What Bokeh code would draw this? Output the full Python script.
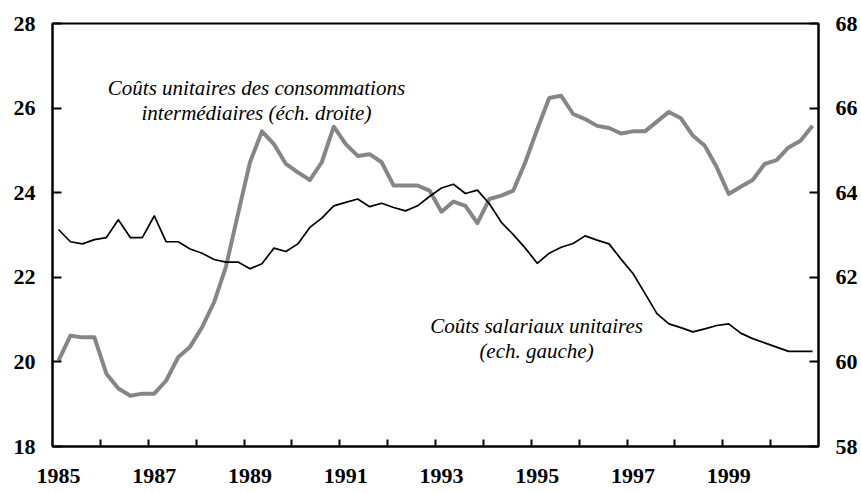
from bokeh.plotting import figure
from bokeh.models import Range1d, LinearAxis, FixedTicker, CustomJSTickFormatter
from bokeh.core.properties import value
from bokeh.embed import file_html
from bokeh.resources import INLINE

# Quarterly data, 1985Q1 .. 2000Q4
start_year = 1985
n_quarters = 64
dates = [start_year + q / 4 + 0.125 for q in range(n_quarters)]

# Coûts salariaux unitaires (échelle gauche)
salariaux = [
    23.13, 22.84, 22.79, 22.89, 22.94, 23.36, 22.94, 22.94,
    23.45, 22.84, 22.84, 22.67, 22.57, 22.42, 22.36, 22.36,
    22.20, 22.32, 22.69, 22.61, 22.79, 23.18, 23.40, 23.69,
    23.77, 23.85, 23.67, 23.75, 23.65, 23.57, 23.69, 23.91,
    24.11, 24.20, 23.98, 24.06, 23.74, 23.30, 23.01, 22.69,
    22.33, 22.57, 22.71, 22.80, 22.98, 22.88, 22.79, 22.43,
    22.09, 21.62, 21.14, 20.90, 20.81, 20.71, 20.78, 20.86,
    20.90, 20.68, 20.55, 20.45, 20.35, 20.25, 20.25, 20.25,
]

# Coûts unitaires des consommations intermédiaires (échelle droite)
consommations = [
    60.03, 60.62, 60.58, 60.58, 59.72, 59.37, 59.20, 59.25,
    59.25, 59.56, 60.11, 60.36, 60.82, 61.41, 62.26, 63.50,
    64.72, 65.45, 65.15, 64.68, 64.48, 64.30, 64.72, 65.56,
    65.15, 64.87, 64.91, 64.72, 64.17, 64.17, 64.17, 64.05,
    63.55, 63.79, 63.69, 63.28, 63.85, 63.93, 64.05, 64.72,
    65.50, 66.24, 66.29, 65.86, 65.74, 65.58, 65.53, 65.40,
    65.45, 65.45, 65.68, 65.91, 65.76, 65.35, 65.11, 64.60,
    63.97, 64.14, 64.30, 64.68, 64.77, 65.07, 65.23, 65.58,
]

left_ticks = [18, 20, 22, 24, 26, 28]
right_ticks = [58, 60, 62, 64, 66, 68]
label_years = [1985, 1987, 1989, 1991, 1993, 1995, 1997, 1999]
year_ticks = list(range(1986, 2001))

label_conso = ["Coûts unitaires des consommations", "intermédiaires (éch. droite)"]
label_sal = ["Coûts salariaux unitaires", "(ech. gauche)"]

FONT = "Liberation Serif"

p = figure(frame_width=766, frame_height=423, x_range=Range1d(1985, 2001), y_range=Range1d(18, 28),
           output_backend="svg", toolbar_location=None,
           min_border_left=52, min_border_right=43, min_border_top=23, min_border_bottom=47)
p.extra_y_ranges = {"right": Range1d(58, 68)}
p.xgrid.visible = False
p.ygrid.visible = False
p.outline_line_color = "black"
p.outline_line_width = 2
p.background_fill_color = "white"
p.border_fill_color = "white"

xa = p.xaxis[0]
xa.ticker = FixedTicker(ticks=[y + 0.125 for y in label_years], minor_ticks=year_ticks)
xa.formatter = CustomJSTickFormatter(code="return Math.floor(tick).toString();")
xa.major_tick_in = 0
xa.major_tick_out = 0
xa.minor_tick_in = 7
xa.minor_tick_out = 0
xa.minor_tick_line_width = 2
xa.axis_line_width = 2
xa.major_label_standoff = 22
xa.major_label_text_font = FONT
xa.major_label_text_font_style = "bold"
xa.major_label_text_font_size = "22px"
xa.major_label_text_color = "black"

ya = p.yaxis[0]
ya.ticker = FixedTicker(ticks=left_ticks)
ya.major_tick_in = 9
ya.major_tick_out = 0
ya.major_tick_line_width = 2
ya.minor_tick_line_color = None
ya.axis_line_width = 2
ya.major_label_standoff = 17
ya.major_label_text_font = FONT
ya.major_label_text_font_style = "bold"
ya.major_label_text_font_size = "22px"
ya.major_label_text_color = "black"

ra = LinearAxis(y_range_name="right", ticker=FixedTicker(ticks=right_ticks))
ra.major_tick_in = 9
ra.major_tick_out = 0
ra.major_tick_line_width = 2
ra.minor_tick_line_color = None
ra.axis_line_width = 2
ra.major_label_standoff = 17
ra.major_label_text_font = FONT
ra.major_label_text_font_style = "bold"
ra.major_label_text_font_size = "22px"
ra.major_label_text_color = "black"
p.add_layout(ra, "right")

p.line(dates, consommations, y_range_name="right", line_color="#868686", line_width=4,
       line_join="round")
p.line(dates, salariaux, line_color="black", line_width=1.7, line_join="round")

p.text(x=[1989.26, 1989.26], y=[26.48, 25.89], text=label_conso,
       text_font=value(FONT), text_font_style="italic", text_font_size="21px",
       text_align="center", text_baseline="alphabetic", text_color="black")
p.text(x=[1995.11, 1995.11], y=[20.86, 20.25], text=label_sal,
       text_font=value(FONT), text_font_style="italic", text_font_size="21px",
       text_align="center", text_baseline="alphabetic", text_color="black")

open("out.html", "w").write(file_html(p, INLINE))
